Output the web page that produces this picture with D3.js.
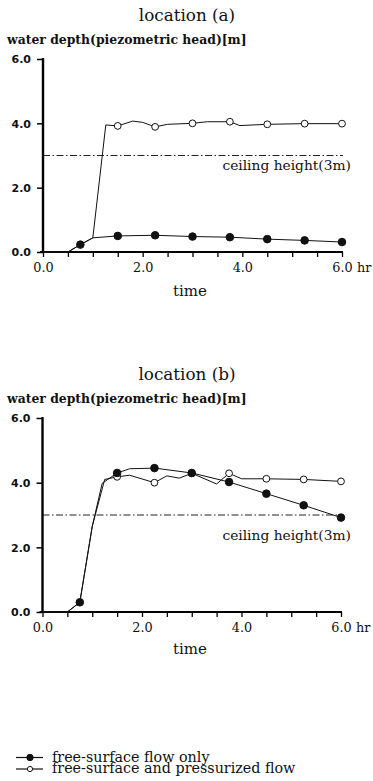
<!DOCTYPE html>
<html>
<head>
<meta charset="utf-8">
<script src="https://d3js.org/d3.v7.min.js"></script>
<style>
  body { margin: 0; background: #fff; }
  svg { display: block; }
</style>
</head>
<body>
<svg></svg>
<script>
var width = 373;
var height = 781;
var serif = "'DejaVu Serif', serif";

// y tick labels and x tick labels
var yTicks = [0, 2, 4, 6];
var xLabelTicks = [0, 2, 4, 6];
var xMinorStep = 0.5;
var ceiling = 3;

// markers are drawn at these times
var freeMarkerTimes = [0.75, 1.5, 2.25, 3.0, 3.75, 4.5, 5.25, 6.0];
var pressMarkerTimes = [1.5, 2.25, 3.0, 3.75, 4.5, 5.25, 6.0];

// location (a)
var aFreeTime  = [0, 0.5, 0.75, 1.0, 1.5, 2.25, 3.0, 3.75, 4.5, 5.25, 6.0];
var aFreeDepth = [0, 0, 0.23, 0.44, 0.50, 0.52, 0.48, 0.46, 0.40, 0.36, 0.31];
var aPressTime  = [0, 0.5, 0.75, 1.0, 1.26, 1.5, 1.8, 2.0, 2.25, 2.5, 3.0, 3.3, 3.75, 3.95, 4.5, 5.25, 6.0];
var aPressDepth = [0, 0, 0.23, 0.44, 3.95, 3.92, 4.07, 4.03, 3.89, 3.97, 4.0, 4.05, 4.05, 3.93, 3.97, 3.99, 3.99];

// location (b)
var bFreeTime  = [0, 0.5, 0.75, 1.0, 1.2, 1.5, 1.75, 2.25, 3.0, 3.75, 4.5, 5.25, 6.0];
var bFreeDepth = [0, 0, 0.30, 2.65, 3.98, 4.30, 4.43, 4.45, 4.30, 4.02, 3.66, 3.30, 2.92];
var bPressTime  = [0, 0.5, 0.75, 1.0, 1.25, 1.5, 1.75, 2.25, 2.5, 2.75, 3.0, 3.5, 3.75, 4.0, 4.5, 5.25, 6.0];
var bPressDepth = [0, 0, 0.30, 2.65, 4.10, 4.18, 4.23, 4.00, 4.21, 4.14, 4.29, 3.96, 4.29, 4.12, 4.12, 4.10, 4.04];

var svg = d3.select("svg")
            .attr("width", width)
            .attr("height", height);

function zip(t, v) {
  return t.map(function(d, i) { return [d, v[i]]; });
}

function drawPanel(opt) {
  var g = svg.append("g");

  var xScale = d3.scaleLinear()
                 .domain([0, 6])
                 .range([opt.left, opt.right]);
  var yScale = d3.scaleLinear()
                 .domain([0, 6])
                 .range([opt.bottom, opt.top]);

  // titles
  g.append("text")
   .attr("x", 187).attr("y", opt.top - 38)
   .attr("text-anchor", "middle")
   .style("font-family", serif)
   .style("font-size", "16.8px")
   .style("fill", "#111")
   .text(opt.title);

  g.append("text")
   .attr("x", 7).attr("y", opt.top - 15)
   .style("font-family", serif)
   .style("font-size", "12.4px")
   .style("font-weight", "bold")
   .style("fill", "#111")
   .text("water depth(piezometric head)[m]");

  // ceiling line
  g.append("line")
   .attr("x1", xScale(0)).attr("x2", xScale(6) + 1)
   .attr("y1", yScale(ceiling)).attr("y2", yScale(ceiling))
   .attr("stroke", "#222")
   .attr("stroke-width", 1)
   .attr("stroke-dasharray", "7,2.5,1.5,2.5");

  g.append("text")
   .attr("x", 351).attr("y", yScale(ceiling) + opt.ceilOffset)
   .attr("text-anchor", "end")
   .style("font-family", serif)
   .style("font-size", "13.8px")
   .style("fill", "#111")
   .text("ceiling height(3m)");

  // axes
  var xAxis = d3.axisBottom(xScale)
                .tickValues(d3.range(0, 6 + 1e-9, xMinorStep))
                .tickSize(5)
                .tickSizeOuter(0)
                .tickFormat(function(d) {
                  return xLabelTicks.indexOf(d) >= 0 ? d3.format(".1f")(d) : "";
                });

  var xg = g.append("g")
            .attr("transform", "translate(0," + opt.bottom + ")")
            .call(xAxis);
  xg.select(".domain").attr("stroke-width", 2).attr("d", "M" + (opt.left - 3) + ",0H" + (opt.right + 1));
  xg.selectAll(".tick line").attr("stroke-width", 1.3);
  xg.selectAll(".tick text")
    .attr("dy", 0).attr("y", 20)
    .style("font-family", serif)
    .style("font-size", "12.8px")
    .style("fill", "#111");

  g.append("text")
   .attr("x", xScale(6) + 15).attr("y", opt.bottom + 20)
   .style("font-family", serif)
   .style("font-size", "12.8px")
   .style("fill", "#111")
   .text("hr");

  g.append("text")
   .attr("x", 190).attr("y", opt.bottom + opt.timeOffset)
   .attr("text-anchor", "middle")
   .style("font-family", serif)
   .style("font-size", "15px")
   .style("fill", "#111")
   .text("time");

  var yAxis = d3.axisLeft(yScale)
                .tickValues(yTicks)
                .tickSize(6)
                .tickSizeOuter(0)
                .tickFormat(d3.format(".1f"));

  var yg = g.append("g")
            .attr("transform", "translate(" + opt.left + ",0)")
            .call(yAxis);
  yg.select(".domain").attr("stroke-width", 2.4).attr("d", "M0," + (opt.top - 1) + "V" + (opt.bottom + 1));
  yg.selectAll(".tick line").attr("stroke-width", 1.5);
  yg.selectAll(".tick text")
    .attr("x", -12)
    .attr("dy", "0.35em")
    .style("font-family", "'DejaVu Sans', sans-serif")
    .style("font-weight", "bold")
    .style("font-size", "11px")
    .style("fill", "#111");

  var line = d3.line()
               .x(function(d) { return xScale(d[0]); })
               .y(function(d) { return yScale(d[1]); });

  var series = [
    { pts: zip(opt.pressTime, opt.pressDepth), marks: pressMarkerTimes, filled: false },
    { pts: zip(opt.freeTime, opt.freeDepth), marks: freeMarkerTimes, filled: true }
  ];

  series.forEach(function(s) {
    g.append("path")
     .datum(s.pts)
     .attr("d", line)
     .attr("fill", "none")
     .attr("stroke", "#111")
     .attr("stroke-width", 1);

    g.selectAll(null)
     .data(s.pts.filter(function(d) { return s.marks.indexOf(d[0]) >= 0; }))
     .enter()
     .append("circle")
     .attr("cx", function(d) { return xScale(d[0]); })
     .attr("cy", function(d) { return yScale(d[1]); })
     .attr("r", s.filled ? 3.8 : 3.4)
     .attr("fill", s.filled ? "#111" : "#fff")
     .attr("stroke", "#111")
     .attr("stroke-width", 1);
  });
}

drawPanel({
  title: "location (a)",
  left: 43, right: 342, top: 59, bottom: 252,
  timeOffset: 44, ceilOffset: 14,
  freeTime: aFreeTime, freeDepth: aFreeDepth,
  pressTime: aPressTime, pressDepth: aPressDepth
});

drawPanel({
  title: "location (b)",
  left: 42.5, right: 341, top: 418, bottom: 612,
  timeOffset: 42, ceilOffset: 25,
  freeTime: bFreeTime, freeDepth: bFreeDepth,
  pressTime: bPressTime, pressDepth: bPressDepth
});

// legend
var legendItems = ["free-surface flow only", "free-surface and pressurized flow"];
var legendFilled = [true, false];

var legend = svg.append("g");
legendItems.forEach(function(label, i) {
  var y = 757.5 + i * 11.5;
  legend.append("line")
        .attr("x1", 16).attr("x2", 43)
        .attr("y1", y).attr("y2", y)
        .attr("stroke", "#111").attr("stroke-width", 1.2);
  legend.append("circle")
        .attr("cx", 30).attr("cy", y)
        .attr("r", legendFilled[i] ? 3.2 : 2.6)
        .attr("fill", legendFilled[i] ? "#111" : "#fff")
        .attr("stroke", "#111").attr("stroke-width", 1);
  legend.append("text")
        .attr("x", 52).attr("y", y + 4)
        .style("font-family", serif)
        .style("font-size", "14.3px")
        .style("fill", "#111")
        .text(label);
});
</script>
</body>
</html>
